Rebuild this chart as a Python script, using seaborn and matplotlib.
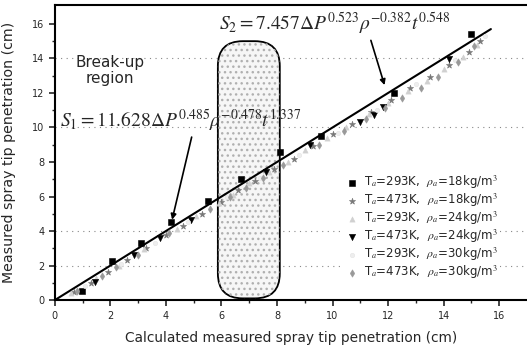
import numpy as np
import pandas as pd
import matplotlib
matplotlib.use("Agg")
import matplotlib.pyplot as plt
import seaborn as sns
from matplotlib.patches import FancyBboxPatch

# ---------------- data ----------------
fit_x = [0.0, 15.7]
fit_y = [0.0, 15.7]

s1_x = [0.97, 2.05, 3.1, 4.2, 5.5, 6.7, 8.1, 9.6, 12.2, 15.0]
s1_y = [0.5, 2.25, 3.3, 4.5, 5.75, 7.0, 8.6, 9.5, 12.0, 15.4]

s2_x = [0.7, 1.3, 1.9, 2.6, 3.3, 4.0, 4.6, 5.3, 6.0, 6.6, 7.2, 7.9, 8.6, 9.3,
        10.0, 10.7, 11.4, 12.1, 12.8, 13.5, 14.2, 14.9, 15.3]
s2_y = [0.45, 1.0, 1.65, 2.3, 3.0, 3.75, 4.3, 5.0, 5.7, 6.35, 6.9, 7.6, 8.2, 8.9,
        9.6, 10.2, 10.9, 11.6, 12.3, 12.9, 13.6, 14.4, 15.0]

s3_x = [0.6, 1.5, 2.3, 3.2, 4.4, 5.1, 5.9, 6.4, 7.0, 7.7, 8.4, 9.0, 9.8, 10.5,
        11.3, 12.0, 12.7, 13.4, 14.0, 14.7, 15.2]
s3_y = [0.4, 1.3, 2.0, 2.95, 4.1, 4.9, 5.6, 6.1, 6.8, 7.4, 8.0, 8.7, 9.4, 10.0,
        10.8, 11.4, 12.1, 12.7, 13.4, 14.1, 14.8]

s4_x = [1.45, 2.85, 3.8, 4.9, 7.6, 9.2, 11.0, 11.5, 11.8, 14.2]
s4_y = [1.05, 2.6, 3.6, 4.65, 7.4, 9.0, 10.3, 10.75, 11.2, 13.95]

s5_x = [1.1, 2.4, 3.6, 4.8, 6.2, 7.4, 8.8, 10.2, 11.6, 13.0, 14.4, 15.5]
s5_y = [0.8, 2.1, 3.3, 4.5, 6.0, 7.1, 8.4, 9.7, 11.0, 12.5, 13.9, 15.3]

s6_x = [0.8, 1.7, 2.2, 3.0, 4.1, 5.6, 6.3, 6.9, 7.5, 8.2, 9.5, 10.4, 11.2, 11.9,
        12.5, 13.2, 13.8, 14.5, 15.1]
s6_y = [0.5, 1.4, 1.9, 2.6, 3.9, 5.3, 6.0, 6.5, 7.1, 7.8, 9.0, 9.8, 10.5, 11.1,
        11.7, 12.3, 12.9, 13.8, 14.7]

series_labels = [
    r"T$_a$=293K,  $\rho_a$=18kg/m$^3$",
    r"T$_a$=473K,  $\rho_a$=18kg/m$^3$",
    r"T$_a$=293K,  $\rho_a$=24kg/m$^3$",
    r"T$_a$=473K,  $\rho_a$=24kg/m$^3$",
    r"T$_a$=293K,  $\rho_a$=30kg/m$^3$",
    r"T$_a$=473K,  $\rho_a$=30kg/m$^3$",
]

grid_levels = [2, 4, 10, 14]

# ---------------- style ----------------
sns.set_style("ticks")
plt.rcParams["font.family"] = ["DejaVu Sans"]
plt.rcParams["mathtext.fontset"] = "stix"

fig = plt.figure(figsize=(5.27, 3.51), dpi=100)
ax = fig.add_axes([0.104, 0.145, 0.896, 0.841])

ax.set_xlim(0, 17)
ax.set_ylim(0, 17.1)

# dotted guide lines
for g in grid_levels:
    ax.axhline(g, color="#888888", lw=0.8, ls=(0, (1, 4)), zorder=0)

# break-up region rounded box
box = FancyBboxPatch((5.87, 0.1), 8.1 - 5.87, 15.0 - 0.1,
                     boxstyle="round,pad=0,rounding_size=0.9",
                     mutation_aspect=1.61, facecolor="#f6f6f6",
                     edgecolor="black", lw=1.3, zorder=1)
ax.add_patch(box)
box2 = FancyBboxPatch((5.87, 0.1), 8.1 - 5.87, 15.0 - 0.1,
                      boxstyle="round,pad=0,rounding_size=0.9",
                      mutation_aspect=1.61, fill=False,
                      edgecolor="#b0b0b0", lw=0, hatch="...", zorder=1)
ax.add_patch(box2)

# fit line
sns.lineplot(x=fit_x, y=fit_y, ax=ax, color="black", lw=1.5, zorder=3)

styles = [
    (s1_x, s1_y, dict(marker="s", color="black", s=22, edgecolor="black")),
    (s2_x, s2_y, dict(marker="*", color="#777777", s=22, edgecolor="#777777")),
    (s3_x, s3_y, dict(marker="^", color="#d0d0d0", s=14, edgecolor="#d0d0d0")),
    (s4_x, s4_y, dict(marker="v", color="black", s=20, edgecolor="black")),
    (s5_x, s5_y, dict(marker="o", color="#eeeeee", s=10, edgecolor="#e4e4e4")),
    (s6_x, s6_y, dict(marker="d", color="#999999", s=14, edgecolor="#999999")),
]
for (xs, ys, kw), lab in zip(styles, series_labels):
    sns.scatterplot(x=xs, y=ys, ax=ax, label=lab, linewidth=0.4, zorder=4, **kw)

# axes formatting
ax.set_xticks(range(0, 17, 2))
ax.set_yticks(range(0, 17, 2))
ax.set_xticks(range(1, 17, 2), minor=True)
ax.set_yticks(range(1, 17, 2), minor=True)
ax.tick_params(axis="both", which="major", labelsize=7, length=4, width=1.2, direction="out")
ax.tick_params(axis="both", which="minor", length=2.5, width=1.0, direction="out")
for side in ["left", "bottom", "top"]:
    ax.spines[side].set_linewidth(1.5)
    ax.spines[side].set_color("black")
ax.spines["right"].set_visible(False)

ax.set_xlabel("Calculated measured spray tip penetration (cm)", fontsize=9.9)
ax.set_ylabel("Measured spray tip penetration (cm)", fontsize=10.2)
ax.yaxis.set_label_coords(-0.083, 0.5)
ax.xaxis.set_label_coords(0.5, -0.105)

# text annotations
ax.text(2.0, 13.3, "Break-up\nregion", fontsize=11, ha="center", va="center",
        multialignment="center", linespacing=1.05)

ax.text(5.9, 16.0, r"$S_2=7.457\Delta P^{0.523}\rho^{-0.382}t^{0.548}$",
        fontsize=14, ha="left", va="center", zorder=6)
ax.text(0.2, 10.4, r"$S_1=11.628\Delta P^{0.485}\rho^{-0.478}t^{1.337}$",
        fontsize=14, ha="left", va="center", zorder=6)

ax.annotate("", xy=(11.9, 12.3), xytext=(11.35, 15.2),
            arrowprops=dict(arrowstyle="-|>", color="black", lw=1.2,
                            mutation_scale=8), zorder=6)
ax.annotate("", xy=(4.2, 4.5), xytext=(4.95, 9.6),
            arrowprops=dict(arrowstyle="-|>", color="black", lw=1.2,
                            mutation_scale=8), zorder=6)

leg = ax.legend(loc="upper left", bbox_to_anchor=(0.6, 0.455), fontsize=8.5,
                frameon=True, framealpha=1, edgecolor="none", facecolor="white",
                labelspacing=0.05, handletextpad=0.5, handlelength=1.0,
                borderpad=0.2)
leg.set_zorder(5)

fig.savefig("out.png", dpi=100)
